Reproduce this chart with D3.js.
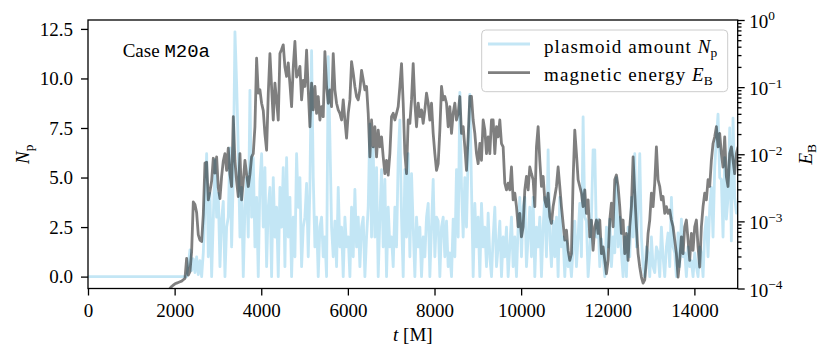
<!DOCTYPE html>
<html>
<head>
<meta charset="utf-8">
<script src="https://cdn.jsdelivr.net/npm/d3@7"></script>
<style>
  body { margin: 0; background: #fff; }
  text { font-family: "Liberation Serif", "Times New Roman", serif; fill: #000; }
</style>
</head>
<body>
<div id="chart"></div>
<script>
// output times of the stored samples [M]
const sampleStart = 1662;
const sampleStep = 38.46;

// plasmoid amount N_p, one value per stored sample
const plasmoidAmount = [
  0,0,0,0,0,0,0,0,0,0, 0,0,0,0,0,0,0,
  0.6,1.35,0.3,0.9,0.2,1.0,0.1,0.8,0.0,1.2,
  3.5,6.2,1.0,4.2,0.0,2.9,5.9,3.0,4.2,0.5,
  2.9,3.8,0.0,2.5,3.0,6.5,1.5,5.0,12.35,9.75,
  6.4,2.0,4.5,0.0,3.5,5.0,2.0,9.4,3.0,6.0,
  1.5,4.0,0.0,4.8,6.2,2.5,5.5,0.5,3.5,4.5,
  0.0,5.0,2.0,3.5,0.0,4.5,2.5,5.5,0.5,6.0,
  2.0,4.0,0.0,3.0,1.0,6.2,3.5,5.0,0.5,2.5,
  // ~5000 M
  3.0,4.7,1.0,4.5,11.4,5.0,1.5,3.0,0.0,2.5,
  3.0,1.0,2.0,0.0,11.1,7.0,2.5,1.0,2.8,0.5,
  4.5,1.5,2.5,0.0,3.0,1.5,2.0,0.0,3.5,1.0,
  4.4,1.5,3.0,0.5,2.5,3.0,0.0,2.0,3.5,7.7,
  2.0,6.5,2.0,5.5,0.0,3.0,5.4,1.5,4.9,0.0,
  3.5,1.5,2.0,0.5,3.5,1.5,6.0,7.9,3.0,0.0,
  5.4,2.0,6.2,1.0,5.2,2.5,0.0,3.0,1.5,2.5,
  0.0,2.0,1.0,3.0,3.7,0.0,2.5,4.9,1.0,3.0,
  2.8,0.0,2.5,3.0,1.0,2.8,0.5,
  // ~8350 M
  1.2,0.0,2.9,1.0,5.4,2.0,9.3,4.5,2.0,5.0,
  2.5,6.2,9.2,4.5,0.0,3.7,1.5,3.0,0.0,3.7,
  1.5,2.5,0.5,3.2,1.0,0.0,2.0,3.5,0.5,1.5,
  2.8,0.0,2.0,1.0,2.5,0.0,1.5,3.0,0.5,2.0,
  0.0,2.5,4.0,1.0,3.5,4.0,0.5,2.0,3.5,1.0,
  4.0,0.0,2.5,1.5,3.0,0.0,2.5,4.0,1.0,6.4,
  2.0,0.5,2.8,1.0,3.0,0.0,4.0,1.5,2.0,0.0,
  1.8,0.5,1.0,0.0,1.5,2.8,0.5,2.0,3.7,1.0,
  8.06,3.0,2.8,0.0,1.2,3.0,6.4,
  // ~11700 M
  6.4,2.0,2.9,0.5,1.9,1.0,0.0,2.5,1.5,2.9,
  0.5,2.0,1.2,5.0,1.5,3.0,1.2,0.0,2.0,0.0,
  2.5,1.0,4.0,2.0,6.2,1.5,3.5,6.2,2.0,0.5,
  0.0,1.5,1.2,0.0,2.0,0.5,0.2,1.5,1.2,0.0,
  2.5,1.0,0.0,1.5,2.2,0.5,4.0,1.5,1.2,0.0,
  2.2,0.5,2.9,1.0,1.2,0.0,1.5,0.5,0.8,0.0,
  1.2,0.5,0.0,1.5,1.2,0.0,2.2,3.0,1.0,3.5,
  4.5,2.0,5.5,7.0,8.2,5.0,4.9,2.0,6.0,2.9,
  4.0,7.5,1.8,8.0,4.0,3.2,3.5
];

// magnetic energy E_B as log10, same samples
const energyExponent = [
  -4.45,-4.40,-4.34,-4.27,-4.18,-4.08,-4.00,-3.97,-3.95,-3.93,
  -3.92,-3.91,-3.90,-3.89,-3.87,-3.85,-3.55,-3.80,-3.75,-3.45,
  -2.71,-2.75,-2.87,-3.20,-3.28,-3.30,-2.90,-2.13,-2.12,-2.68,
  -2.55,-2.40,-2.06,-2.28,-2.04,-2.50,-2.66,-2.33,-2.10,-1.99,
  -2.24,-1.91,-2.30,-2.48,-1.44,-2.10,-2.40,-2.63,-1.99,-2.68,
  -2.40,-2.09,-2.30,-2.48,-2.30,-2.04,-1.99,-1.59,-0.57,-1.09,
  -1.04,-1.24,-1.35,-1.70,-1.94,-1.10,-0.50,-1.00,-1.49,-0.94,
  -1.20,-1.49,-0.50,-0.44,-0.37,-0.70,-0.84,-0.64,-0.95,-1.29,
  -0.70,-0.32,-0.85,-0.80,-0.69,-1.19,-0.90,
  -0.99,-0.45,-1.04,-1.59,-0.94,-1.34,-0.99,-1.39,-1.14,-1.49,
  -1.29,-1.44,-0.47,-0.99,-1.24,-1.04,-1.29,-0.50,-1.04,-1.24,
  -1.34,-1.39,-1.49,-1.19,-1.49,-1.76,-1.39,-1.19,-0.62,-0.79,
  -0.99,-1.14,-1.19,-1.04,-0.75,-0.89,-1.04,-0.99,-1.39,-2.04,
  -1.49,-1.89,-1.59,-2.04,-1.64,-1.89,-1.74,-2.04,-2.29,-2.09,
  -2.31,-1.99,-1.44,-1.39,-1.49,-1.39,-1.29,-0.99,-0.65,-1.24,
  -1.99,-2.29,-1.49,-1.54,-1.19,-0.65,-1.24,-1.59,-1.24,-1.44,
  -1.34,-1.54,-1.34,-1.09,-1.24,-1.49,-1.24,-1.69,-1.99,-2.24,
  -2.14,-1.64,-0.99,-1.19,-1.14,-1.24,-1.59,
  -1.29,-1.69,-1.39,-1.24,-1.49,-1.39,-1.14,-1.69,-1.59,-1.89,
  -2.24,-1.74,-1.14,-1.14,-1.49,-1.69,-1.99,-2.14,-1.84,-2.09,
  -1.49,-1.64,-1.99,-1.74,-1.99,-1.49,-1.49,-1.99,-1.59,-1.74,
  -1.49,-1.84,-1.89,-2.43,-2.53,-2.43,-2.53,-2.19,-2.68,-2.58,
  -2.78,-3.08,-2.88,-3.23,-3.08,-2.53,-2.33,-2.53,-2.19,-2.29,
  -2.38,-2.78,-1.89,-1.59,-2.09,-2.48,-2.33,-2.68,-2.78,-2.58,
  -2.93,-3.03,-2.78,-2.63,-2.48,-2.19,-2.48,-2.78,-3.03,-3.28,
  -3.13,-3.43,-3.58,-3.48,-2.38,-1.64,-1.99,-2.38,-2.48,-2.58,
  -2.78,-2.53,-2.88,-2.68,-3.23,-2.98,-3.43,
  -3.08,-2.98,-3.18,-2.98,-3.48,-3.38,-3.58,-3.78,-3.58,-2.98,
  -2.73,-3.08,-2.38,-2.31,-2.48,-2.78,-3.18,-2.98,-3.48,-3.18,
  -3.58,-3.08,-2.78,-2.04,-2.58,-3.08,-3.48,-3.68,-3.83,-3.92,
  -3.87,-3.58,-3.18,-2.98,-2.58,-2.78,-2.43,-1.89,-2.38,-2.48,
  -2.68,-2.63,-2.88,-2.78,-2.88,-2.83,-2.98,-3.08,-3.28,-3.48,
  -3.83,-3.58,-3.23,-3.48,-3.08,-2.98,-3.28,-3.58,-3.18,-3.43,
  -3.08,-2.98,-3.38,-3.68,-3.08,-2.78,-2.58,-2.68,-2.38,-2.48,
  -2.09,-1.84,-1.74,-1.59,-1.89,-1.69,-1.99,-2.19,-1.74,-2.33,
  -2.48,-1.99,-1.89,-2.09,-2.29,-1.99,-1.89
];

const timeTicks = [0, 2000, 4000, 6000, 8000, 10000, 12000, 14000];
const npTicks = [0, 2.5, 5, 7.5, 10, 12.5];
const energyDecades = [-4, -3, -2, -1, 0];

const width = 829, height = 361;
const margin = { top: 20, right: 91.3, bottom: 72.5, left: 88 };
const fontSize = 19;

const svg = d3.select("#chart").append("svg")
  .attr("width", width)
  .attr("height", height);

const x = d3.scaleLinear().domain([0, 15000]).range([margin.left, width - margin.right]);
const yN = d3.scaleLinear().domain([-0.6, 12.95]).range([height - margin.bottom, margin.top]);
const yE = d3.scaleLog().domain([1e-4, 1]).range([height - margin.bottom, margin.top]);

svg.append("defs").append("clipPath").attr("id", "plot-clip")
  .append("rect")
  .attr("x", margin.left).attr("y", margin.top)
  .attr("width", width - margin.left - margin.right)
  .attr("height", height - margin.top - margin.bottom);

const npData = [[0, 0]].concat(plasmoidAmount.map((v, i) => [sampleStart + i * sampleStep, v]));
const ebData = energyExponent.map((v, i) => [sampleStart + i * sampleStep, Math.pow(10, v)]);

const plot = svg.append("g").attr("clip-path", "url(#plot-clip)");

plot.append("path")
  .datum(npData)
  .attr("fill", "none")
  .attr("stroke", "#87ceeb")
  .attr("stroke-opacity", 0.5)
  .attr("stroke-width", 2.8)
  .attr("stroke-linejoin", "round")
  .attr("d", d3.line().x(d => x(d[0])).y(d => yN(d[1])));

plot.append("path")
  .datum(ebData)
  .attr("fill", "none")
  .attr("stroke", "#000")
  .attr("stroke-opacity", 0.5)
  .attr("stroke-width", 2.8)
  .attr("stroke-linejoin", "round")
  .attr("d", d3.line().x(d => x(d[0])).y(d => yE(d[1])));

// axes
function styleAxis(g) {
  g.select(".domain").remove();
  g.selectAll(".tick line").attr("stroke", "#000").attr("stroke-width", 1.3);
  g.selectAll(".tick text").style("font-size", fontSize + "px")
    .style("font-family", "'Liberation Serif', serif");
}

svg.append("g")
  .attr("transform", `translate(0,${height - margin.bottom})`)
  .call(d3.axisBottom(x).tickValues(timeTicks).tickSize(7).tickPadding(8.5).tickFormat(d3.format("d")))
  .call(styleAxis);

svg.append("g")
  .attr("transform", `translate(${margin.left},0)`)
  .call(d3.axisLeft(yN).tickValues(npTicks).tickSize(7).tickPadding(8).tickFormat(d3.format(".1f")))
  .call(styleAxis);

const minorTicks = [];
energyDecades.slice(0, -1).forEach(e => {
  for (let m = 2; m <= 9; m++) minorTicks.push(m * Math.pow(10, e));
});

const rightX = width - margin.right;
svg.append("g")
  .attr("transform", `translate(${rightX},0)`)
  .call(d3.axisRight(yE).tickValues(minorTicks).tickSize(3.8).tickFormat(""))
  .call(styleAxis);

const rightAxis = svg.append("g")
  .attr("transform", `translate(${rightX},0)`)
  .call(d3.axisRight(yE).tickValues(energyDecades.map(e => Math.pow(10, e))).tickSize(7).tickPadding(4.6))
  .call(styleAxis);

rightAxis.selectAll(".tick text")
  .attr("dy", "0.40em")
  .each(function(d) {
    const t = d3.select(this).text(null);
    t.append("tspan").text("10");
    const e = Math.round(Math.log10(d));
    t.append("tspan").attr("dy", -7.7).style("font-size", "13.3px")
      .text(e < 0 ? "\u2212" + (-e) : String(e));
  });

// frame
svg.append("rect")
  .attr("x", margin.left).attr("y", margin.top)
  .attr("width", width - margin.left - margin.right)
  .attr("height", height - margin.top - margin.bottom)
  .attr("fill", "none")
  .attr("stroke", "#000")
  .attr("stroke-width", 1.3);

// axis labels
const xl = svg.append("text")
  .attr("x", (margin.left + width - margin.right) / 2)
  .attr("y", 341)
  .attr("text-anchor", "middle")
  .style("font-size", fontSize + "px");
xl.append("tspan").style("font-style", "italic").text("t");
xl.append("tspan").text(" [M]");

function mathLabel(sel, main, sub) {
  sel.append("tspan").style("font-style", "italic").text(main);
  sel.append("tspan").attr("dy", 4).style("font-size", "13.5px").text(sub);
}

mathLabel(svg.append("text")
  .attr("transform", `translate(29,${(margin.top + height - margin.bottom) / 2}) rotate(-90)`)
  .attr("text-anchor", "middle")
  .style("font-size", fontSize + "px"), "N", "p");

mathLabel(svg.append("text")
  .attr("transform", `translate(812,${(margin.top + height - margin.bottom) / 2}) rotate(-90)`)
  .attr("text-anchor", "middle")
  .style("font-size", fontSize + "px"), "E", "B");

// case annotation
const caseText = svg.append("text")
  .attr("x", 122.7)
  .attr("y", 57)
  .style("font-size", fontSize + "px");
caseText.append("tspan").text("Case ");
caseText.append("tspan").style("font-family", "'Liberation Mono', monospace").text("M20a");

// legend
const legend = svg.append("g");
legend.append("rect")
  .attr("x", 481.7).attr("y", 30)
  .attr("width", 246).attr("height", 61.7)
  .attr("rx", 4)
  .attr("fill", "#fff").attr("fill-opacity", 0.8)
  .attr("stroke", "#cccccc").attr("stroke-width", 1);

const legendItems = [
  { text: "plasmoid amount ", main: "N", sub: "p", color: "#87ceeb", y: 44 },
  { text: "magnetic energy ", main: "E", sub: "B", color: "#000", y: 72.7 }
];
legendItems.forEach(item => {
  legend.append("line")
    .attr("x1", 488).attr("x2", 530)
    .attr("y1", item.y).attr("y2", item.y)
    .attr("stroke", item.color).attr("stroke-opacity", 0.5)
    .attr("stroke-width", 2.8);
  const t = legend.append("text")
    .attr("x", 544).attr("y", item.y + 8.5)
    .style("font-size", fontSize + "px");
  t.append("tspan").style("letter-spacing", "1.1px").text(item.text);
  mathLabel(t, item.main, item.sub);
});
</script>
</body>
</html>
